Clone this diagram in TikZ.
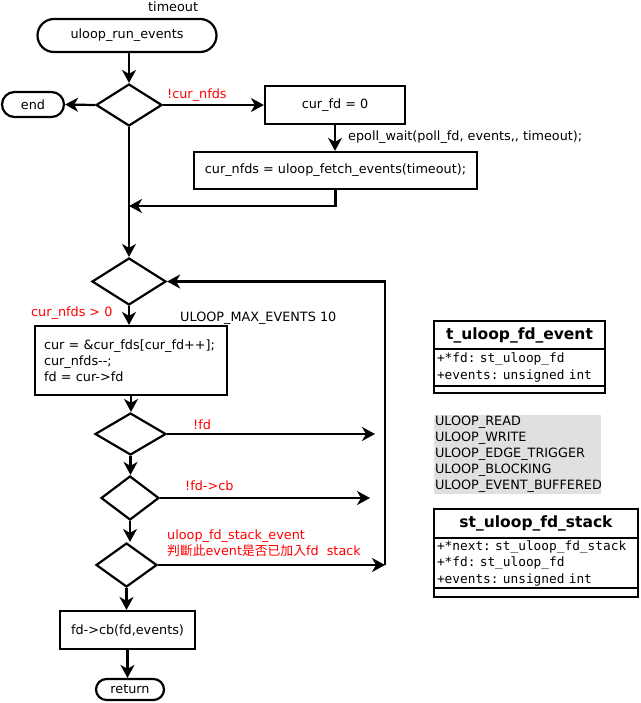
\documentclass[tikz,border=0pt]{standalone}
\usepackage{fontspec}
\setmainfont{DejaVu Sans}
\setmonofont{DejaVu Sans Mono}
\newfontfamily\cjkfont{Noto Sans CJK TC}
\usetikzlibrary{shapes.geometric,shapes.misc,arrows.meta}
\definecolor{flaggray}{RGB}{224,224,224}
\frenchspacing

\begin{document}
\begin{tikzpicture}[x=1pt,y=-1pt,
  every node/.style={font=\fontsize{12.8}{16}\selectfont},
  flow/.style={line width=2.2pt,-{Stealth[length=13pt,width=14pt,inset=4pt]}},
  terminal/.style={draw,line width=2.2pt,rounded rectangle,inner sep=0pt},
  proc/.style={draw,line width=2.2pt,rectangle,inner sep=0pt},
  decision/.style={draw,line width=2.2pt,diamond,inner sep=0pt},
  cond/.style={text=red,anchor=west,inner sep=0pt},
  note/.style={anchor=west,inner sep=0pt},
  umltitle/.style={draw,line width=2.2pt,inner sep=0pt,font=\fontsize{15.5}{18}\selectfont\bfseries},
  umlattr/.style={draw,line width=2.2pt,inner sep=0pt,align=left,font=\fontsize{12.8}{16.5}\selectfont\ttfamily\frenchspacing},
  umlfoot/.style={draw,line width=2.2pt,inner sep=0pt}
]
\useasboundingbox (0,0) rectangle (640,703);

% main flow
\node[note] (timeout) at (148,7) {timeout};
\node[terminal,minimum width=179pt,minimum height=33pt] (run) at (127,35.5) {uloop\_run\_events};
\node[decision,minimum width=66pt,minimum height=42pt] (d1) at (129,105) {};
\node[terminal,minimum width=62pt,minimum height=25pt] (end) at (33,104.5) {end};
\node[proc,minimum width=140pt,minimum height=38pt] (curfd) at (335,105) {cur\_fd = 0};
\node[proc,minimum width=283pt,minimum height=37pt] (fetch) at (335.5,170.5) {cur\_nfds = uloop\_fetch\_events(timeout);};
\coordinate (j1) at (129,206);
\node[decision,minimum width=74pt,minimum height=47pt] (d2) at (129,281.5) {};
\node[proc,minimum width=192pt,minimum height=69pt,text width=174pt,align=left] (take) at (131,360.5)
  {cur = \&cur\_fds[cur\_fd++];\\cur\_nfds-{}-;\\fd = cur->fd};
\node[decision,minimum width=71pt,minimum height=42pt] (d3) at (130.5,434) {};
\node[decision,minimum width=58pt,minimum height=44pt] (d4) at (130,498) {};
\node[decision,minimum width=61pt,minimum height=44pt] (d5) at (126.5,565) {};
\node[proc,minimum width=135pt,minimum height=38pt] (cb) at (127.5,630) {fd->cb(fd,events)};
\node[terminal,minimum width=68pt,minimum height=21pt] (ret) at (130,689.5) {return};

\coordinate (x3) at (375,434);
\coordinate (x4) at (370,498);
\coordinate (r5) at (385,565);

% labels
\node[cond] (lnfds) at (167,95) {!cur\_nfds};
\node[note] (lepoll) at (348,137) {epoll\_wait(poll\_fd, events,{}, timeout);};
\node[cond] (lpos) at (31,313) {cur\_nfds > 0};
\node[note] (lmax) at (180,318) {ULOOP\_MAX\_EVENTS 10};
\node[cond] (lfd) at (193,424.5) {!fd};
\node[cond] (lcb) at (185,486) {!fd->cb};
\node[cond,align=left] (lstack) at (167,543)
  {uloop\_fd\_stack\_event\\{\cjkfont 判斷此}event{\cjkfont 是否已加入}fd~~stack};

% connectors
\draw[flow] (run.south -| d1.north) -- (d1.north);
\draw[flow] (d1.west) -- (end.east);
\draw[flow] (d1.east) -- (curfd.west);
\draw[flow] (curfd.south) -- (curfd.south |- fetch.north);
\draw[flow] (fetch.south) |- (j1);
\draw[flow] (d1.south) -- (d2.north);
\draw[flow] (d2.south) -- (d2.south |- take.north);
\draw[flow] (take.south) -- (take.south |- d3.north);
\draw[flow] (d3.east) -- (x3);
\draw[flow] (d3.south) -- (d3.south |- d4.north);
\draw[flow] (d4.east) -- (x4);
\draw[flow] (d4.south) -- (d4.south |- d5.north);
\draw[flow] (d5.east) -- (r5);
\draw[flow] (r5) |- (d2.east);
\draw[flow] (d5.south) -- (d5.south |- cb.north);
\draw[flow] (cb.south) -- (cb.south |- ret.north);

% t_uloop_fd_event
\node[umltitle,minimum width=171pt,minimum height=28pt] (evtitle) at (519.5,335) {t\_uloop\_fd\_event};
\node[umlattr,minimum width=171pt,minimum height=37pt,text width=165pt] (evattr) at (519.5,367.5)
  {+*fd: st\_uloop\_fd\\+events: unsigned int};
\node[umlfoot,minimum width=171pt,minimum height=7pt] (evfoot) at (519.5,389.5) {};

% event flags
\node[fill=flaggray,inner sep=0pt,minimum width=167pt,minimum height=79pt,text width=165pt,align=left] (flags) at (517.5,454.5)
  {ULOOP\_READ\\ULOOP\_WRITE\\ULOOP\_EDGE\_TRIGGER\\ULOOP\_BLOCKING\\ULOOP\_EVENT\_BUFFERED};

% st_uloop_fd_stack
\node[umltitle,minimum width=204pt,minimum height=29pt] (sttitle) at (536,523.5) {st\_uloop\_fd\_stack};
\node[umlattr,minimum width=204pt,minimum height=50pt,text width=198pt] (stattr) at (536,563)
  {+*next: st\_uloop\_fd\_stack\\+*fd: st\_uloop\_fd\\+events: unsigned int};
\node[umlfoot,minimum width=204pt,minimum height=9pt] (stfoot) at (536,592.5) {};
\end{tikzpicture}
\end{document}
